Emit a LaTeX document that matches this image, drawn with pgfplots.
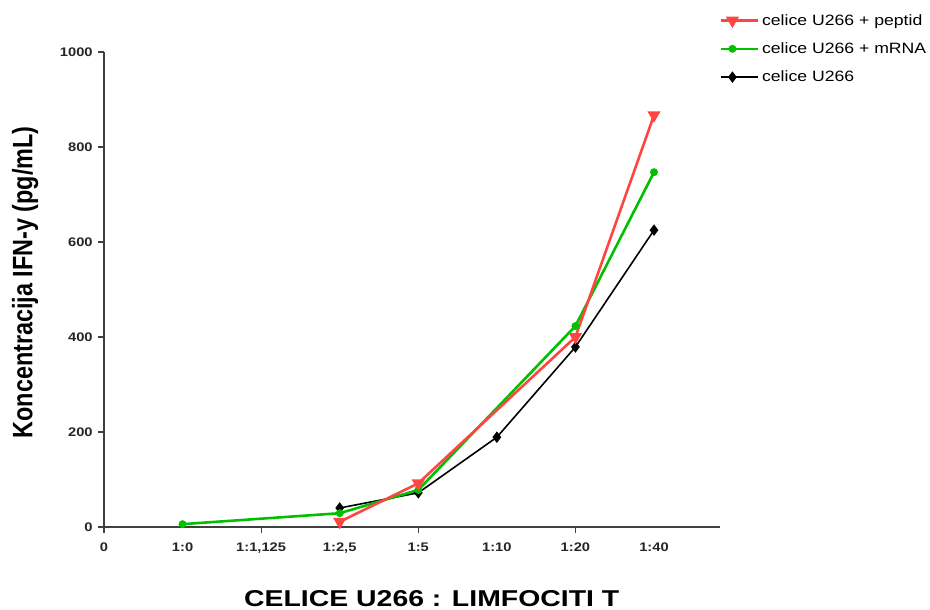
\documentclass[border=0pt]{standalone}
\usepackage{fontspec}
\setmainfont{Liberation Sans}
\usepackage{pgfplots}
\pgfplotsset{compat=1.18}
\definecolor{cred}{HTML}{FF4444}
\definecolor{cgreen}{HTML}{00C000}
\definecolor{axgray}{HTML}{404040}
\begin{document}
\begin{tikzpicture}[x=1bp,y=1bp]
\useasboundingbox (0,0) rectangle (930,610);
\begin{axis}[
  at={(104bp,83bp)}, anchor=south west,
  scale only axis, width=616bp, height=475bp,
  xmin=0, xmax=7.84, ymin=0, ymax=1000,
  axis x line=bottom, axis y line=left,
  axis line style={-, axgray, line width=1.3pt},
  tick style={axgray, line width=1.3pt},
  tick align=outside, major tick length=6bp,
  xtick={0,2,4,6},
  xticklabels={0,{1:1,125},1:5,1:20},
  extra x ticks={1,3,5,7},
  extra x tick labels={1:0,{1:2,5},1:10,1:40},
  ytick={0,200,400,600,800,1000},
  /pgf/number format/assume math mode=true,
  /pgf/number format/1000 sep={},
  tick label style={font=\bfseries\fontsize{12.5}{14}\selectfont, text=black!85, xscale=1.18},
  xticklabel style={yshift=-6bp},
  extra x tick style={major tick length=0pt, xticklabel style={yshift=-6bp}},
  yticklabel style={xshift=-1bp},
  ylabel={Koncentracija IFN-y (pg/mL)},
  ylabel style={font=\bfseries\fontsize{23.5}{26}\selectfont, at={(axis description cs:-0.128,0.515)}, anchor=center, yscale=1.2},
  xlabel={CELICE U266 : LIMFOCITI T},
  xlabel style={font=\bfseries\fontsize{23}{26}\selectfont, at={(axis description cs:0.532,-0.150)}, anchor=center, xscale=1.24},
  clip=false,
  reverse legend,
  legend style={at={(axis description cs:0.995,1.088)}, anchor=north west, draw=none, fill=none,
    font=\fontsize{15}{17}\selectfont, row sep=12bp, nodes={xscale=1.18}},
  legend cell align=left,
  legend image code/.code={\draw[#1, mark repeat=2, mark phase=2] plot coordinates {(0bp,0bp) (11bp,0bp) (22bp,0bp)}; \path (0bp,0bp) -- (37bp,0bp);},
]
\addplot[black, line width=1.6pt, mark=diamond*, mark size=4.5bp] coordinates {
  (3,40) (4,72) (5,189) (6,379) (7,625)};
\addlegendentry{celice U266}
\addplot[cgreen, line width=2.6pt, mark=*, mark size=2.6bp] coordinates {
  (1,6) (3,29) (4,78) (6,423) (7,747)};
\addlegendentry{celice U266 + mRNA}
\addplot[cred, line width=2.6pt, mark=triangle*, mark size=5bp, mark options={rotate=180}] coordinates {
  (3,11) (4,92) (6,400) (7,867)};
\addlegendentry{celice U266 + peptid}
\end{axis}
\end{tikzpicture}
\end{document}
